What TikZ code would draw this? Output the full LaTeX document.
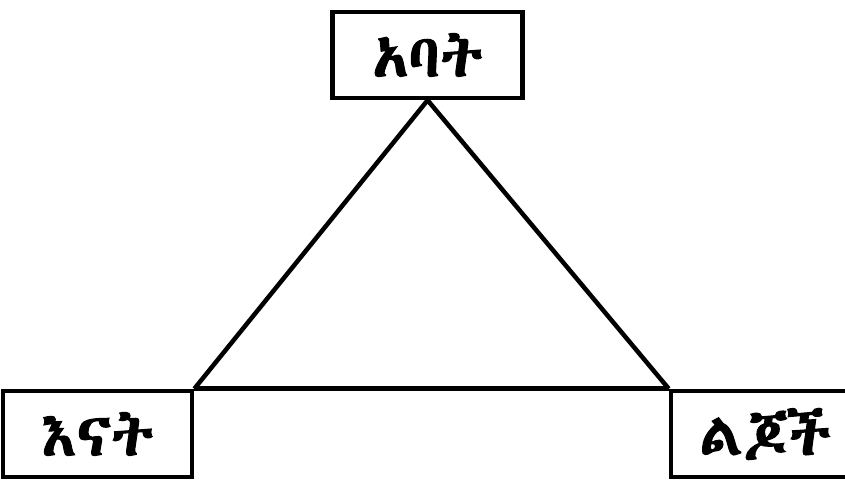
\documentclass[tikz,border=0pt]{standalone}
\usepackage{fontspec}
\usepackage{tikz}
\IfFontExistsTF{Abyssinica SIL}{%
  \newfontfamily\ethfont[FakeBold=1.8]{Abyssinica SIL}}{%
  \newfontfamily\ethfont[FakeBold=1.8]{FreeSerif.otf}}
\tikzset{
  famblock/.style={draw,line width=3.2pt,minimum width=4.75cm,minimum height=2.15cm,
    inner sep=0pt,font=\ethfont\fontsize{42}{48}\selectfont},
  famline/.style={line width=3.2pt}
}

\begin{document}
\begin{tikzpicture}
	  \useasboundingbox (0,0) rectangle (21.125,-12.05);
	  \fill[white] (0,0) rectangle (21.125,-12.05);
	  \node[famblock] (abat) at (10.69,-1.375) {አባት};
	  \node[famblock,minimum width=4.725cm] (enat) at (2.44,-10.85) {እናት};
	  \node[famblock,minimum width=4.725cm] (lijoch) at (19.1375,-10.85) {ልጆች\hspace{0.45cm}};
	  \draw[famline] (abat.south) -- (enat.north east);
	  \draw[famline] (abat.south) -- (lijoch.north west);
	  \draw[famline] (enat.north east) -- (lijoch.north west);
	\end{tikzpicture}
\end{document}
